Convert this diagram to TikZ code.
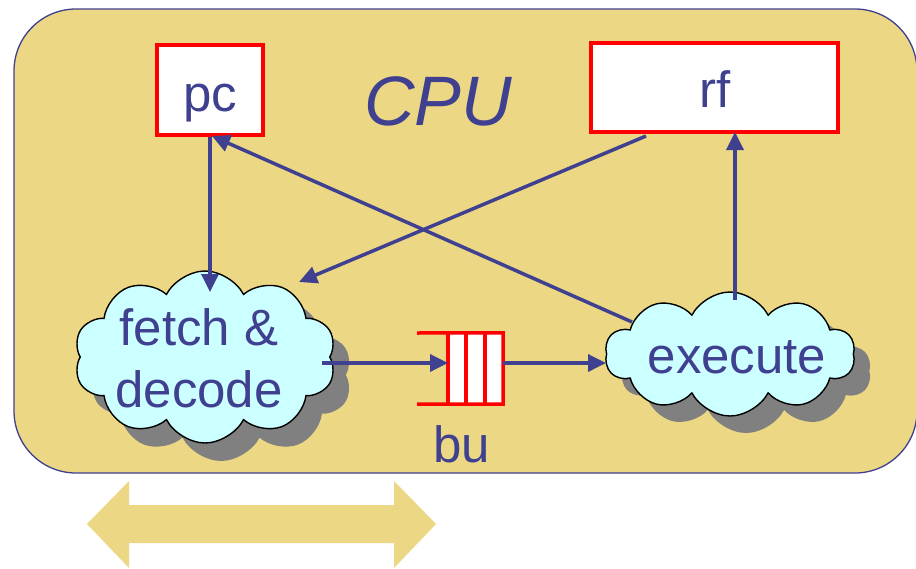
\documentclass[tikz,border=0pt]{standalone}
\usepackage{fontspec}
\setmainfont{Liberation Sans}
\usetikzlibrary{shapes.symbols,arrows.meta}
\definecolor{bgyel}{RGB}{235,215,132}
\definecolor{txtblue}{RGB}{64,64,144}
\definecolor{cloudc}{RGB}{204,255,255}
\definecolor{shadowc}{RGB}{128,128,128}
\begin{document}
\begin{tikzpicture}[x=1pt,y=-1pt,
  lbl/.style={text=txtblue,font=\fontsize{51}{62}\selectfont,inner sep=0pt,align=center},
  regbox/.style={draw=red,line width=3.5pt,fill=white,inner sep=0pt},
  cloudbox/.style={cloud,cloud puffs=10,cloud puff arc=125,cloud ignores aspect,draw=black,line width=1.4pt,fill=cloudc,inner sep=0pt},
  cloudshadow/.style={cloud,cloud puffs=10,cloud puff arc=125,cloud ignores aspect,fill=shadowc,draw=none,inner sep=0pt},
  conn/.style={draw=txtblue,line width=3.5pt,-{Triangle[length=18pt,width=17pt]}}
]
\useasboundingbox (0,0) rectangle (916,568);
\fill[white] (0,0) rectangle (916,568);
% CPU frame
\draw[txtblue,line width=1.3pt,fill=bgyel,rounded corners=62pt] (14,9) rectangle (917,473);
% registers
\node[regbox,minimum width=106pt,minimum height=90pt] (pc) at (210,90) {};
\node[lbl,anchor=base] (pct) at (210,111) {pc};
\node[regbox,minimum width=247pt,minimum height=89pt] (rf) at (714.5,87.5) {};
\node[lbl,anchor=base] (rft) at (715,107) {rf};
\node[lbl,font=\fontsize{70}{80}\selectfont\itshape] (cpu) at (438,101) {CPU};
% clouds
\node[cloudshadow,minimum width=262pt,minimum height=172pt] (fds) at (221,375) {};
\node[cloudbox,minimum width=262pt,minimum height=172pt] (fd) at (205,357) {};
\node[lbl] (fdt) at (199,358) {fetch \&\\decode};
\node[cloudshadow,minimum width=250pt,minimum height=124pt] (exs) at (746,371) {};
\node[cloudbox,minimum width=250pt,minimum height=124pt] (ex) at (730,354) {};
\node[lbl] (ext) at (737,357) {execute};
% buffer
\node[inner sep=0pt,minimum width=55pt,minimum height=71pt] (bu) at (475.5,368.5) {};
\fill[white] (bu.north west) rectangle (bu.south east);
\draw[red,line width=3.5pt] (417,333) -- (bu.north east) -- (bu.south east) -- (417,404);
\draw[red,line width=3.5pt] (bu.north west) -- (bu.south west)
  (466,333) -- (466,404) (485,333) -- (485,404);
\node[lbl] (bul) at (462,444) {bu};
\coordinate (qin) at (448,363);
\coordinate (qout) at (503,363);
% connectors
\coordinate (fdtop) at (210,292);
\coordinate (fdur) at (299,282);
\coordinate (fdr) at (322,363);
\coordinate (exl) at (606,363);
\coordinate (exul) at (632,322);
\coordinate (extop) at (735,300);
\coordinate (pcb) at (212,136);
\coordinate (rfbl) at (646,136);
\coordinate (rfb) at (735,132);
\draw[conn] (pc.south) -- (fdtop);
\draw[conn] (rfbl) -- (fdur);
\draw[conn] (exul) -- (pcb);
\draw[conn] (extop) -- (rfb);
\draw[conn] (fdr) -- (qin);
\draw[conn] (qout) -- (exl);
% double arrow
\fill[bgyel] (87,524) -- (129,481) -- (129,505) -- (394,505) -- (394,481) -- (436,524)
  -- (394,568) -- (394,543) -- (129,543) -- (129,568) -- cycle;
\end{tikzpicture}
\end{document}
